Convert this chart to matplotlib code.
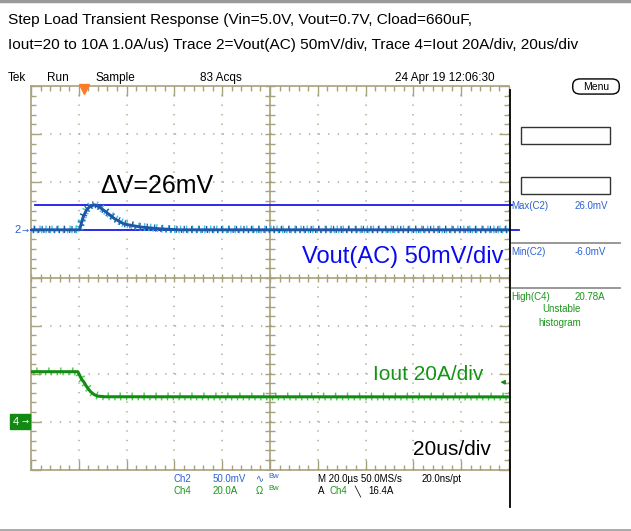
import numpy as np
import matplotlib
matplotlib.use("Agg")
import matplotlib.pyplot as plt
import matplotlib.patheffects as pe
import matplotlib.transforms as mtrans
from matplotlib.patches import Rectangle, FancyBboxPatch
from matplotlib.lines import Line2D

plt.rcParams['font.family'] = ['Liberation Sans', 'DejaVu Sans']
plt.rcParams['lines.scale_dashes'] = False

# Ch2: Vout (AC), mV ; Ch4: Iout, A ; time in us
vout_t = [0, 20.3, 21.9, 23.3, 25.0, 26.8, 28.5, 31.7, 35.0, 39.0, 45.6, 54.0, 62.0, 200]
vout_mv = [0, 0, 14, 21, 25, 26, 24, 18, 11.5, 6, 3, 1, 0, 0]
iout_t = [0, 19.6, 20.3, 21.2, 22.2, 23.0, 24.0, 25.0, 26.5, 28.0, 31.0, 200]
iout_a = [20.8, 20.8, 19.4, 17.6, 16.4, 15.0, 13.6, 12.4, 11.2, 10.6, 10.35, 10.3]
cursor_mv = [26.0, 0.0]
trig_time = 22.2
trig_level = 16.4

# scope settings
v_per_div = 50.0   # mV/div
i_per_div = 20.0   # A/div
gnd2 = 1.0         # ch2 ground, divs from center
gnd4 = -3.0        # ch4 ground

W, H = 631, 531
def fx(x): return x / W
def fy(y): return 1 - y / H

blue_txt = '#2a62d6'
green_txt = '#1b951b'
frame = '#a8a27c'
dots = '#b0ac8e'

fig = plt.figure(figsize=(6.31, 5.31), dpi=100)
ax = fig.add_axes([fx(31), fy(469.5), 478 / W, (469.5 - 86) / H])
ax.set_xlim(0, 200)
ax.set_ylim(-4, 4)

ax.set_xticks(np.arange(0, 201, 20))
ax.set_xticks(np.arange(0, 201, 4), minor=True)
ax.set_yticks(np.arange(-4, 4.1, 1))
ax.set_yticks(np.arange(-4, 4.01, 0.2), minor=True)
ax.tick_params(which='both', direction='in', top=True, right=True,
               labelbottom=False, labelleft=False, color=frame, width=1)
ax.tick_params(which='major', length=7)
ax.tick_params(which='minor', length=3.5)
ax.grid(True, which='major', color=dots, linestyle=(0, (1.0, 5.9)), linewidth=1.1)
for s in ax.spines.values():
    s.set_color(frame)
    s.set_linewidth(1.2)
ax.spines['right'].set_visible(False)

# center cross with ticks
ax.axvline(100, color=frame, lw=1.2)
ax.axhline(0, color=frame, lw=1.2)
xt = np.arange(0, 201, 4)
ax.plot(xt, np.zeros(len(xt)), ls='none', marker='|', ms=6, mew=1, color=frame)
yt = np.arange(-4, 4.01, 0.2)
ax.plot(np.full(len(yt), 100), yt, ls='none', marker='_', ms=7, mew=1, color=frame)

# cursors
curs_ext = [(0.008, 1.006), (0.0, 1.021)]
for v, (a, b) in zip(cursor_mv, curs_ext):
    ax.axhline(gnd2 + v / v_per_div, xmin=a, xmax=b, color='#1a1ae8', lw=1.3,
               clip_on=False, zorder=4)

# traces (spiky noise drawn as a stroke style)
vdark, vcyan = '#1f56a6', '#36c6e4'
ax.plot(vout_t, gnd2 + np.array(vout_mv) / v_per_div, color=vdark, lw=2.1,
        zorder=5, solid_joinstyle='round',
        path_effects=[pe.TickedStroke(spacing=4.3, angle=90, length=0.6, foreground=vcyan, linewidth=1),
                      pe.TickedStroke(spacing=3.1, angle=-90, length=0.65, foreground=vcyan, linewidth=1),
                      pe.Normal(),
                      pe.TickedStroke(spacing=5.3, angle=90, length=0.45, foreground=vdark, linewidth=0.9),
                      pe.TickedStroke(spacing=3.7, angle=-90, length=0.5, foreground=vdark, linewidth=0.9)])

gdark, glight = '#168a16', '#3ccf3c'
ax.plot(iout_t, gnd4 + np.array(iout_a) / i_per_div, color=gdark, lw=2.2,
        zorder=5, solid_joinstyle='round',
        path_effects=[pe.TickedStroke(spacing=8.5, angle=90, length=0.3, foreground=glight, linewidth=1),
                      pe.TickedStroke(spacing=4.2, angle=-90, length=0.5, foreground=glight, linewidth=1),
                      pe.Normal()])

# trigger marks
ax.plot([trig_time], [3.93], marker='v', ms=7, color='#ff7a26', clip_on=False, zorder=6)
lvl = gnd4 + trig_level / i_per_div
ax.annotate('', xy=(195.2, lvl), xytext=(199.6, lvl),
            arrowprops=dict(arrowstyle='-|>', color=gdark, lw=1, mutation_scale=6))

# ground markers
bl = mtrans.blended_transform_factory(fig.transFigure, ax.transData)
fig.text(fx(14), gnd2, '2', transform=bl, color=blue_txt, fontsize=8, va='center')
fig.text(fx(21), gnd2, '\u2192', transform=bl, color=blue_txt, fontsize=6,
         va='center', family='DejaVu Sans')
fig.add_artist(Rectangle((fx(10), gnd4 - 0.15), fx(20), 0.3, transform=bl,
                         color='#128a12', zorder=3))
fig.text(fx(13), gnd4, '4', transform=bl, color='white', fontsize=8, va='center', zorder=4)
fig.text(fx(21), gnd4, '\u2192', transform=bl, color='white', fontsize=6,
         va='center', family='DejaVu Sans', zorder=4)

# annotations
fig.text(fx(100), fy(193), '\u0394V=26mV', fontsize=18, color='black', va='baseline')
fig.text(fx(302), fy(263), 'Vout(AC) 50mV/div', fontsize=17, color='#0a0af0', va='baseline')
fig.text(fx(373), fy(380), 'Iout 20A/div', fontsize=15, color='#149414', va='baseline')
fig.text(fx(413), fy(455), '20us/div', fontsize=15, color='black', va='baseline')

# title
fig.text(fx(8), fy(20), 'Step Load Transient Response (Vin=5.0V, Vout=0.7V, Cload=660uF,',
         fontsize=11.1, va='center')
fig.text(fx(8), fy(45), 'Iout=20 to 10A 1.0A/us) Trace 2=Vout(AC) 50mV/div, Trace 4=Iout 20A/div, 20us/div',
         fontsize=11.1, va='center')

# header row
for s, x in [('Tek', 8), ('Run', 47), ('Sample', 95), ('83 Acqs', 200),
             ('24 Apr 19 12:06:30', 395)]:
    fig.text(fx(x), fy(78), s, fontsize=8.5, va='center')

# borders
fig.add_artist(Line2D([0, 1], [fy(1), fy(1)], color='#9a9a9a', lw=2.5))
fig.add_artist(Line2D([0, 1], [fy(529.5), fy(529.5)], color='#a8a8a8', lw=2))
fig.add_artist(Line2D([fx(509.5)] * 2, [fy(90), fy(507)], color='black', lw=1.3))

# right panel
fig.add_artist(FancyBboxPatch((fx(574), fy(93)), fx(44), (93 - 80) / H,
                              boxstyle='round,pad=0.002,rounding_size=0.012',
                              fc='white', ec='black', lw=1))
fig.text(fx(596), fy(86.5), 'Menu', fontsize=7.5, ha='center', va='center')
for y0, y1 in [(127, 144), (177, 194)]:
    fig.add_artist(Rectangle((fx(521), fy(y1)), fx(89), (y1 - y0) / H,
                             fc='none', ec='#333333', lw=1))
for y in [243, 288]:
    fig.add_artist(Line2D([fx(512), fx(620)], [fy(y), fy(y)], color='#909090', lw=1.3))
meas = [('Max(C2)', '26.0mV', 206, blue_txt), ('Min(C2)', '-6.0mV', 252, blue_txt),
        ('High(C4)', '20.78A', 297, green_txt)]
for lab, val, y, c in meas:
    fig.text(fx(511), fy(y), lab, fontsize=7, color=c, va='center')
    fig.text(fx(575), fy(y), val, fontsize=7, color=c, va='center')
fig.text(fx(561), fy(309), 'Unstable', fontsize=7, color=green_txt, ha='center', va='center')
fig.text(fx(560), fy(323), 'histogram', fontsize=7, color=green_txt, ha='center', va='center')

# bottom readouts
row1 = [('Ch2', 174, blue_txt), ('50.0mV', 213, blue_txt), ('\u223f', 256, blue_txt),
        ('M 20.0\u00b5s 50.0MS/s', 318, 'black'), ('20.0ns/pt', 422, 'black')]
row2 = [('Ch4', 174, green_txt), ('20.0A', 213, green_txt), ('\u03a9', 256, green_txt),
        ('A', 318, 'black'), ('Ch4', 330, green_txt), ('\u2572', 354, 'black'),
        ('16.4A', 368, 'black')]
for row, y in [(row1, 479), (row2, 491)]:
    for s, x, c in row:
        fig.text(fx(x), fy(y), s, fontsize=7, color=c, va='center')
fig.text(fx(268), fy(477), 'Bw', fontsize=5.5, color=blue_txt, va='center')
fig.text(fx(268), fy(489), 'Bw', fontsize=5.5, color=green_txt, va='center')

fig.savefig('out.png', dpi=100, facecolor='white')
